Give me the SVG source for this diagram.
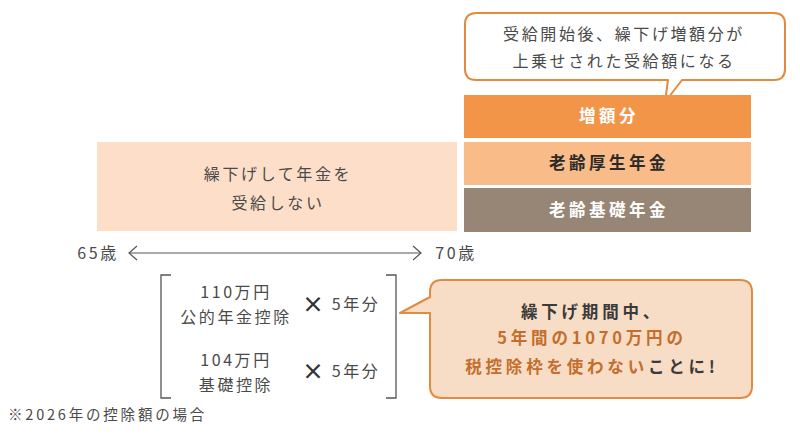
<svg xmlns="http://www.w3.org/2000/svg" width="800" height="435" viewBox="0 0 800 435">
  <defs>
    <style>
      text { font-family: "Noto Sans CJK JP", "Noto Sans", sans-serif; text-anchor: middle; }
      .reg { font-size: 16px; fill: #4a4a4a; letter-spacing: 2.6px; }
      .bar { font-size: 16.5px; font-weight: bold; letter-spacing: 3.5px; }
      .call { font-size: 16.5px; font-weight: bold; letter-spacing: 3.8px; fill: #3a3a3a; }
      .hl { fill: #c46d2c; }
      .times { font-size: 22px; font-weight: bold; fill: #333; }
      .bubble { stroke: #e28a3f; stroke-width: 2; stroke-linejoin: round; }
      .axis { stroke: #555; stroke-width: 1.2; fill: none; }
      .brk { stroke: #555; stroke-width: 1.3; fill: none; }
    </style>
  </defs>

  <rect width="800" height="435" fill="#ffffff"/>

  <!-- speech bubble above the bars -->
  <g id="note-top">
    <path class="bubble" fill="#ffffff" d="M477,13 H774 Q785,13 785,24 V69 Q785,80 774,80 H682 L665,102 L668,80 H476 Q465,80 465,69 V24 Q465,13 477,13 Z"/>
    <text class="reg" x="624" y="40">受給開始後、繰下げ増額分が</text>
    <text class="reg" x="624" y="67">上乗せされた受給額になる</text>
  </g>

  <!-- pension stack after 70 -->
  <g id="bar-increase">
    <rect x="464" y="95" width="287" height="43" fill="#f29548"/>
    <text class="bar" x="609" y="122" fill="#ffffff">増額分</text>
  </g>
  <g id="bar-employee">
    <rect x="464" y="142" width="287" height="43" fill="#f9bb88"/>
    <text class="bar" x="609" y="169" fill="#2a2a2a">老齢厚生年金</text>
  </g>
  <g id="bar-basic">
    <rect x="464" y="188" width="287" height="44" fill="#978676"/>
    <text class="bar" x="609" y="216" fill="#ffffff">老齢基礎年金</text>
  </g>

  <!-- deferral period -->
  <g id="deferral">
    <rect x="97" y="142" width="360" height="89" fill="#fddfc9"/>
    <text class="reg" x="278" y="180">繰下げして年金を</text>
    <text class="reg" x="278" y="209">受給しない</text>
  </g>

  <!-- age axis -->
  <g id="connectors">
    <line class="axis" x1="129" y1="253" x2="421" y2="253"/>
    <polyline class="axis" points="137,246 129,253 137,260"/>
    <polyline class="axis" points="413,246 421,253 413,260"/>
  </g>
  <g id="age-65">
    <text class="reg" x="98" y="259">65歳</text>
  </g>
  <g id="age-70">
    <text class="reg" x="456" y="259">70歳</text>
  </g>

  <!-- deductions in brackets -->
  <g id="deductions">
    <polyline class="brk" points="171,275 161,275 161,398 171,398"/>
    <polyline class="brk" points="386,275 396,275 396,398 386,398"/>
    <text class="reg" x="236" y="298">110万円</text>
    <text class="reg" x="236" y="323">公的年金控除</text>
    <text class="times" x="313" y="312">×</text>
    <text class="reg" x="356" y="310">5年分</text>
    <text class="reg" x="236" y="366">104万円</text>
    <text class="reg" x="236" y="391">基礎控除</text>
    <text class="times" x="313" y="379">×</text>
    <text class="reg" x="356" y="377">5年分</text>
  </g>

  <!-- conclusion bubble -->
  <g id="note-bottom">
    <path class="bubble" fill="#f7ddc6" d="M442,280 H740 Q752,280 752,292 V386 Q752,398 740,398 H442 Q430,398 430,386 V313 H400 L430,297 V292 Q430,280 442,280 Z"/>
    <text class="call" x="592" y="318">繰下げ期間中、</text>
    <text class="call hl" x="592" y="344">5年間の1070万円の</text>
    <text class="call" x="592" y="373"><tspan class="hl">税控除枠を使わない</tspan>ことに!</text>
  </g>

  <!-- footnote -->
  <g id="footnote">
    <text x="8" y="420" style="text-anchor:start;font-size:14.5px;fill:#4a4a4a;letter-spacing:2.8px;">※2026年の控除額の場合</text>
  </g>
</svg>
